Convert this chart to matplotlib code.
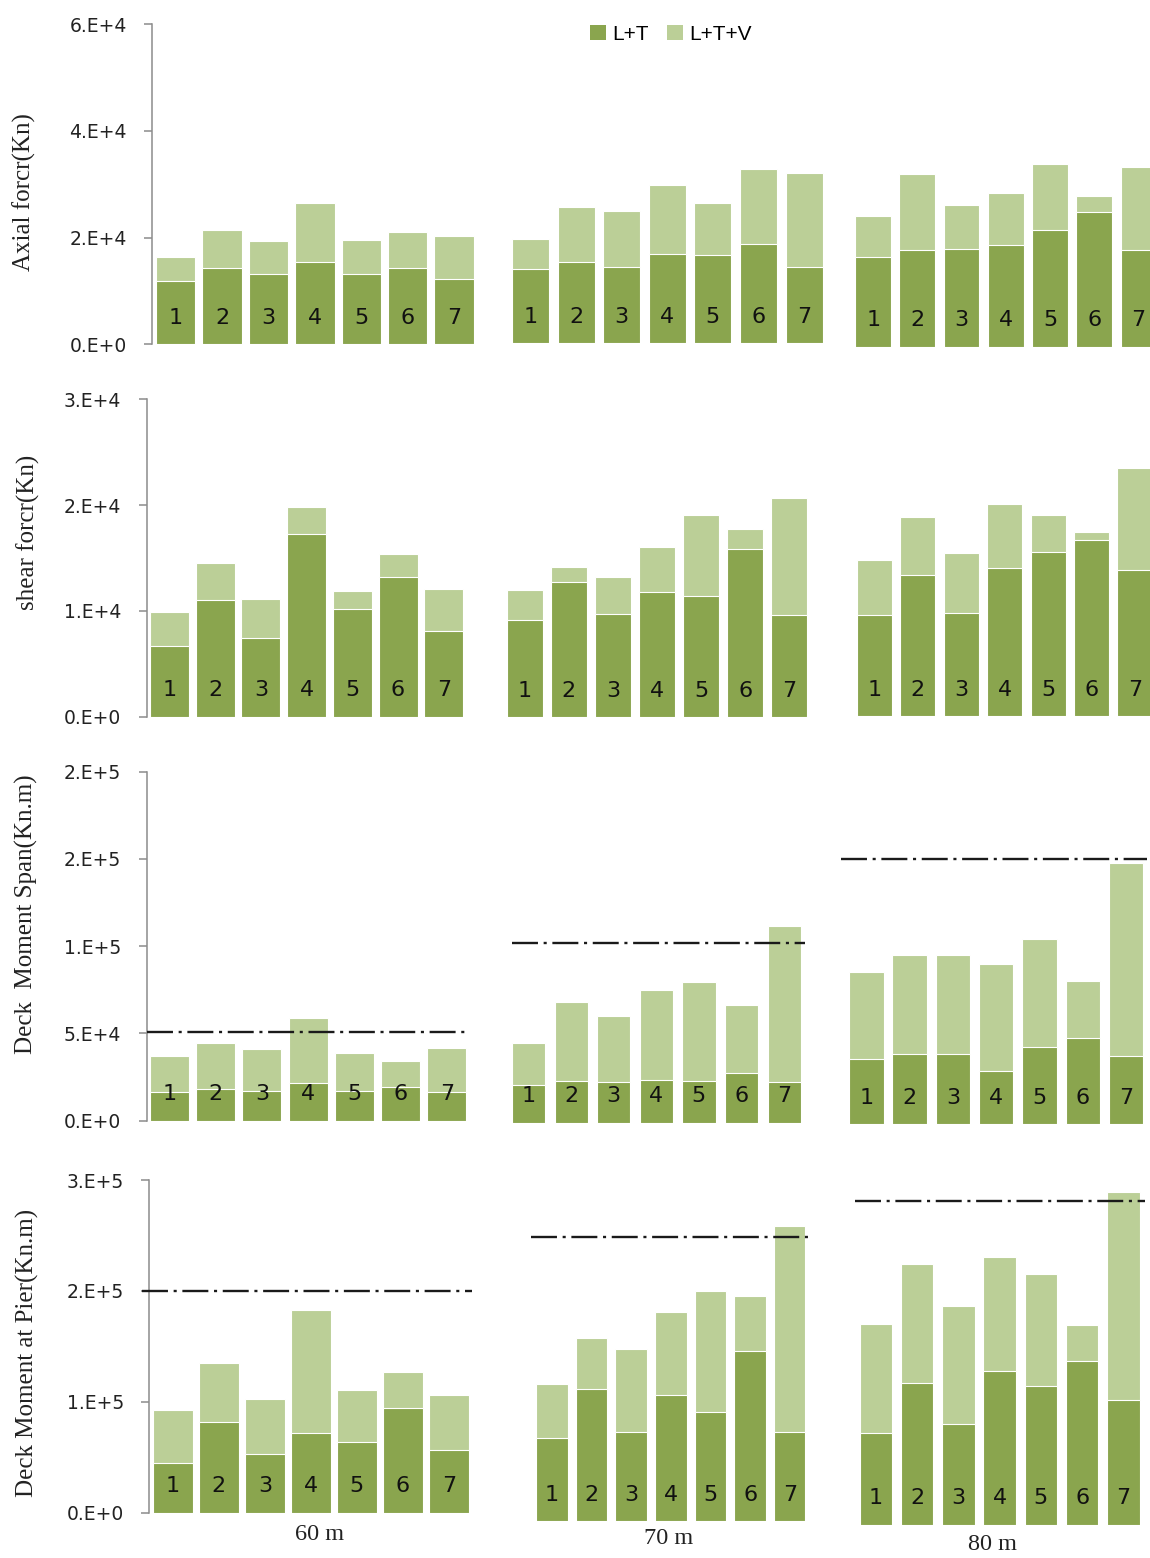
import numpy as np
import matplotlib
matplotlib.use("Agg")
import matplotlib.pyplot as plt
from matplotlib.patches import Patch

W, H = 1150, 1558                       # canvas in pixels (dpi 100)
DARK = "#8aa54e"; LIGHT = "#bbcf97"; AXIS = "#8c8c8c"; INK = "#222222"
SERIF = ["Liberation Serif", "DejaVu Serif"]

spans = ["60 m", "70 m", "80 m"]
bar_ids = ["1", "2", "3", "4", "5", "6", "7"]
series = ["L+T", "L+T+V"]

# axial force (kN)
lt_axial_60 = [11860, 14290, 13110, 15420, 13110, 14290, 12170]
ltv_axial_60 = [16400, 21400, 19290, 26460, 19540, 20980, 20230]
lt_axial_70 = [13860, 15230, 14350, 16730, 16480, 18600, 14350]
ltv_axial_70 = [19540, 25470, 24780, 29590, 26220, 32650, 31950]
lt_axial_80 = [16860, 18050, 18300, 18990, 21860, 25230, 18050]
ltv_axial_80 = [24420, 32350, 26600, 28730, 34220, 28280, 33710]

# shear force (kN)
lt_shear_60 = [6680, 11030, 7410, 17260, 10180, 13170, 8130]
ltv_shear_60 = [9920, 14500, 11090, 19790, 11850, 15350, 12070]
lt_shear_70 = [9170, 12760, 9730, 11810, 11430, 15900, 9640]
ltv_shear_70 = [12000, 14180, 13230, 16120, 19120, 17790, 20700]
lt_shear_80 = [9520, 13350, 9730, 13960, 15500, 16600, 13830]
ltv_shear_80 = [14770, 18780, 15380, 20060, 18990, 17420, 23440]

# deck moment at mid span (kN.m)
lt_span_60 = [16270, 18340, 17020, 21430, 17020, 19140, 16270]
ltv_span_60 = [37250, 44520, 40910, 59020, 38620, 34380, 41660]
lt_span_70 = [21770, 23890, 23150, 24640, 23890, 28310, 23150]
ltv_span_70 = [45670, 68990, 60970, 76210, 80620, 67440, 112700]
lt_span_80 = [37070, 39940, 39940, 30370, 44290, 49450, 39140]
ltv_span_80 = [87270, 96670, 96670, 91680, 106180, 82110, 149720]
span_limits = [51000, 103000, 152000]

# deck moment at pier (kN.m)
lt_pier_60 = [45050, 81720, 53160, 71540, 63430, 94600, 56490]
ltv_pier_60 = [92260, 134600, 102440, 182630, 110280, 126500, 105770]
lt_pier_70 = [74500, 119200, 80190, 113500, 98500, 153400, 80190]
ltv_pier_70 = [123700, 164900, 154700, 188900, 207200, 202700, 265800]
lt_pier_80 = [82350, 127900, 90460, 138500, 124700, 147800, 112400]
ltv_pier_80 = [180800, 235500, 197000, 241500, 226500, 179700, 300000]
pier_limits = [200000, 256500, 291600]

rows = [
    dict(lt=[lt_axial_60, lt_axial_70, lt_axial_80],
         ltv=[ltv_axial_60, ltv_axial_70, ltv_axial_80],
         ymax=6e4, ticks=[0, 2e4, 4e4, 6e4],
         labels=["0.E+0", "2.E+4", "4.E+4", "6.E+4"],
         ylabel="Axial forcr(Kn)", limits=None),
    dict(lt=[lt_shear_60, lt_shear_70, lt_shear_80],
         ltv=[ltv_shear_60, ltv_shear_70, ltv_shear_80],
         ymax=3e4, ticks=[0, 1e4, 2e4, 3e4],
         labels=["0.E+0", "1.E+4", "2.E+4", "3.E+4"],
         ylabel="shear forcr(Kn)", limits=None),
    dict(lt=[lt_span_60, lt_span_70, lt_span_80],
         ltv=[ltv_span_60, ltv_span_70, ltv_span_80],
         ymax=2e5, ticks=[0, 5e4, 1e5, 1.5e5, 2e5],
         labels=["0.E+0", "5.E+4", "1.E+5", "2.E+5", "2.E+5"],
         ylabel="Deck  Moment Span(Kn.m)", limits=span_limits),
    dict(lt=[lt_pier_60, lt_pier_70, lt_pier_80],
         ltv=[ltv_pier_60, ltv_pier_70, ltv_pier_80],
         ymax=3e5, ticks=[0, 1e5, 2e5, 3e5],
         labels=["0.E+0", "1.E+5", "2.E+5", "3.E+5"],
         ylabel="Deck Moment at Pier(Kn.m)", limits=pier_limits),
]

# pixel layout: axis top, spine x, y-label centre, and per group
# (first bar left, bar pitch, bar width, baseline, limit line x-range)
layout = [
    dict(top=24.0, spine=152.3, ylab=(24, 192),
         groups=[(156.0, 46.4, 39.3, 344.3, None),
                 (512.0, 45.6, 37.0, 343.3, None),
                 (855.3, 44.2, 35.8, 346.7, None)]),
    dict(top=399.3, spine=146.7, ylab=(28, 532),
         groups=[(150.0, 45.7, 39.0, 716.7, None),
                 (506.8, 44.1, 35.8, 717.3, None),
                 (857.0, 43.4, 35.0, 716.0, None)]),
    dict(top=771.7, spine=146.7, ylab=(26.5, 914),
         groups=[(150.0, 46.2, 39.0, 1120.7, (147, 468)),
                 (511.9, 42.6, 33.2, 1122.7, (512, 805)),
                 (849.0, 43.3, 34.5, 1124.0, (841, 1147))]),
    dict(top=1180.0, spine=149.3, ylab=(27.5, 1353),
         groups=[(152.7, 46.0, 40.3, 1512.7, (142, 472)),
                 (536.3, 39.6, 31.6, 1521.0, (531, 808)),
                 (859.5, 41.3, 32.4, 1524.7, (855, 1145))]),
]
span_label_px = [(320, 1535), (669, 1538), (992, 1545)]

fig = plt.figure(figsize=(W / 100, H / 100), dpi=100)


def px_axes(x0, x1, y_top, y_bot):
    return fig.add_axes([x0 / W, 1 - y_bot / H, (x1 - x0) / W, (y_bot - y_top) / H])


for row, lay in zip(rows, layout):
    first_base = lay["groups"][0][3]
    height = first_base - lay["top"]
    x = np.arange(len(bar_ids))
    for g, (L, p, w, base, lim_px) in enumerate(lay["groups"]):
        x0 = lay["spine"] if g == 0 else L - 6
        x1 = L + 6 * p + w + 6
        ax = px_axes(x0, x1, base - height, base)
        ax.patch.set_visible(False)
        c0 = L + w / 2
        ax.set_xlim((x0 - c0) / p, (x1 - c0) / p)
        ax.set_ylim(0, row["ymax"])
        ax.bar(x, row["ltv"][g], width=w / p, color=LIGHT, edgecolor="white", lw=0.8, zorder=2)
        ax.bar(x, row["lt"][g], width=w / p, color=DARK, edgecolor="white", lw=0.8, zorder=3)
        for i, s in enumerate(bar_ids):
            ax.annotate(s, (i, 0), xytext=(0, 19), textcoords="offset points",
                        ha="center", va="center", fontsize=16, color="#111111", zorder=4)
        if row["limits"] is not None:
            xa, xb = (lim_px[0] - c0) / p, (lim_px[1] - c0) / p
            lim = row["limits"][g]
            ax.plot([xa, xb], [lim, lim], color="#1a1a1a", lw=1.7,
                    dashes=(11, 2.4, 1.3, 2.4), clip_on=False, zorder=5)
        ax.set_xticks([])
        for side in ("top", "right", "bottom"):
            ax.spines[side].set_visible(False)
        if g == 0:
            ax.spines["left"].set_color(AXIS)
            ax.spines["left"].set_linewidth(1.1)
            ax.set_yticks(row["ticks"])
            ax.set_yticklabels(row["labels"])
            ax.tick_params(axis="y", length=5.8, width=1.1, color=AXIS, pad=12.5,
                           labelsize=13.5, labelcolor=INK)
        else:
            ax.spines["left"].set_visible(False)
            ax.set_yticks([])
    fig.text(lay["ylab"][0] / W, 1 - lay["ylab"][1] / H, row["ylabel"], rotation=90,
             ha="center", va="center", fontsize=18, family=SERIF, color=INK)

for name, (px, py) in zip(spans, span_label_px):
    fig.text(px / W, 1 - py / H, name, ha="center", va="center",
             fontsize=17.5, family=SERIF, color=INK)

handles = [Patch(facecolor=DARK, label=series[0]), Patch(facecolor=LIGHT, label=series[1])]
fig.legend(handles=handles, loc="center", bbox_to_anchor=(671 / W, 1 - 34 / H), ncol=2,
           frameon=False, borderpad=0, handlelength=0.75, handleheight=0.7,
           handletextpad=0.3, columnspacing=0.9,
           prop={"family": ["Liberation Sans", "DejaVu Sans"], "size": 15})

fig.savefig("out.png", dpi=100)
